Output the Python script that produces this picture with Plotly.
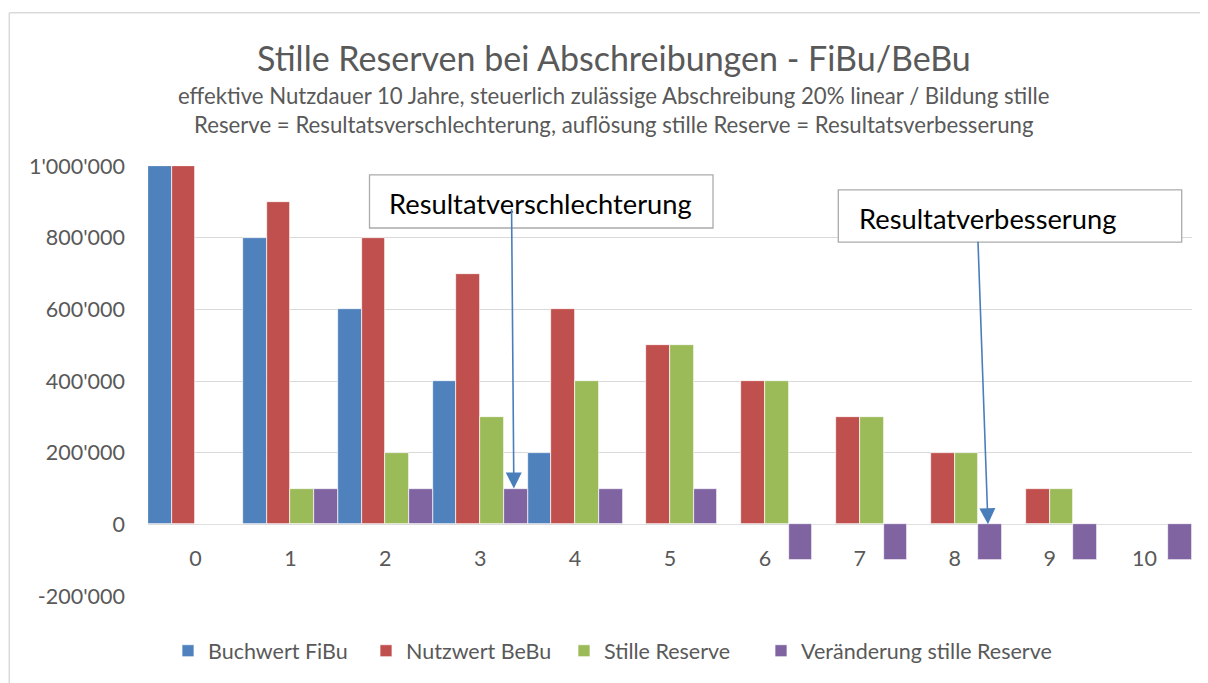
import plotly.graph_objects as go

categories = ["0", "1", "2", "3", "4", "5", "6", "7", "8", "9", "10"]
buchwert_fibu = [1000000, 800000, 600000, 400000, 200000, 0, 0, 0, 0, 0, 0]
nutzwert_bebu = [1000000, 900000, 800000, 700000, 600000, 500000, 400000, 300000, 200000, 100000, 0]
stille_reserve = [0, 100000, 200000, 300000, 400000, 500000, 400000, 300000, 200000, 100000, 0]
veraenderung = [0, 100000, 100000, 100000, 100000, 100000, -100000, -100000, -100000, -100000, -100000]

series_names = ["Buchwert FiBu", "Nutzwert BeBu", "Stille Reserve", "Veränderung stille Reserve"]
series_values = [buchwert_fibu, nutzwert_bebu, stille_reserve, veraenderung]
series_colors = ["#4F81BD", "#C0504D", "#9BBB59", "#8064A2"]
series_legends = ["legend", "legend", "legend", "legend2"]

y_tickvals = [-200000, 0, 200000, 400000, 600000, 800000, 1000000]
y_ticktext = ["-200'000", "0", "200'000", "400'000", "600'000", "800'000", "1'000'000"]

title_text = "Stille Reserven bei Abschreibungen - FiBu/BeBu"
subtitle_1 = "effektive Nutzdauer 10 Jahre, steuerlich zulässige Abschreibung 20% linear / Bildung stille"
subtitle_2 = "Reserve = Resultatsverschlechterung, auflösung stille Reserve = Resultatsverbesserung"
note_1 = "Resultatverschlechterung"
note_2 = "Resultatverbesserung"

FONT = "Lato"
GREY = "#595959"

fig = go.Figure()
for name, vals, col, lg in zip(series_names, series_values, series_colors, series_legends):
    fig.add_trace(go.Bar(x=categories, y=vals, name=name, legend=lg,
                         marker=dict(color=col, line=dict(color="white", width=0.7))))

# page has an 8px body margin; figure sized to fit the window
W, H = 1200, 675
L, R, T, B = 140, 16, 158, 85
pw, ph = W - L - R, H - T - B
OFF = 8


def px(x):  # reference-window x pixel -> paper coordinate
    return (x - OFF - L) / pw


def py(y):  # reference-window y pixel -> paper coordinate
    return (H - B - (y - OFF)) / ph


fig.update_layout(
    width=W, height=H,
    margin=dict(l=L, r=R, t=T, b=B),
    paper_bgcolor="white", plot_bgcolor="white",
    barmode="group", bargap=0, bargroupgap=0,
    font=dict(family=FONT, color=GREY),
    showlegend=True,
    legend=dict(orientation="h", x=px(168), xanchor="left", y=py(653), yanchor="middle",
                font=dict(size=21.5, color=GREY), itemwidth=30, traceorder="normal",
                entrywidth=153, entrywidthmode="pixels"),
    legend2=dict(orientation="h", x=px(761), xanchor="left", y=py(653), yanchor="middle",
                 font=dict(size=21.5, color=GREY), itemwidth=30),
    xaxis=dict(type="category", range=[-0.5, 10.5], anchor="free", position=1/6,
               showline=False, showgrid=False, ticks="", tickfont=dict(size=21.5, color=GREY),
               ticklabelstandoff=19),
    yaxis=dict(range=[-200000, 1000000], tickvals=y_tickvals, ticktext=y_ticktext,
               showgrid=True, gridcolor="#D9D9D9", gridwidth=1,
               zeroline=True, zerolinecolor="#D9D9D9", zerolinewidth=1,
               showline=False, ticks="", tickfont=dict(size=21.5, color=GREY),
               ticklabelstandoff=22),
)

annotations = [
    dict(text=title_text, xref="paper", yref="paper", x=px(613.5), y=py(57), showarrow=False,
         font=dict(size=34, color=GREY, family=FONT), xanchor="center", yanchor="middle"),
    dict(text=subtitle_1, xref="paper", yref="paper", x=px(613), y=py(95), showarrow=False,
         font=dict(size=22.2, color=GREY, family=FONT), xanchor="center", yanchor="middle"),
    dict(text=subtitle_2, xref="paper", yref="paper", x=px(613.5), y=py(124), showarrow=False,
         font=dict(size=22.2, color=GREY, family=FONT), xanchor="center", yanchor="middle"),
    dict(text=note_1, xref="paper", yref="paper", x=px(540.5), y=py(204),
         showarrow=False, font=dict(size=27.3, color="black", family=FONT),
         xanchor="center", yanchor="middle"),
    dict(text=note_2, xref="paper", yref="paper", x=px(987), y=py(219),
         showarrow=False, font=dict(size=27.3, color="black", family=FONT),
         xanchor="center", yanchor="middle"),
    dict(text="", x=3.355, y=100000, xref="x", yref="y", showarrow=True, ax=-2.3, ay=-281,
         arrowcolor="#4A7EBB", arrowwidth=1.6, arrowhead=2, arrowsize=2.0, standoff=0),
    dict(text="", x=8.35, y=0, xref="x", yref="y", showarrow=True, ax=-10, ay=-284,
         arrowcolor="#4A7EBB", arrowwidth=1.6, arrowhead=2, arrowsize=2.0, standoff=0),
]
fig.update_layout(annotations=annotations)

shapes = [
    dict(type="rect", xref="paper", yref="paper", x0=px(369.5), x1=px(713), y0=py(228.3), y1=py(175),
         line=dict(color="#ABABAB", width=1.3), fillcolor="white", layer="above"),
    dict(type="rect", xref="paper", yref="paper", x0=px(838.3), x1=px(1181.7), y0=py(242.5), y1=py(190),
         line=dict(color="#ABABAB", width=1.3), fillcolor="white", layer="above"),
    dict(type="line", xref="paper", yref="paper", x0=px(9.3), x1=px(9.3), y0=py(12), y1=py(700),
         line=dict(color="#D9D9D9", width=1.5)),
    dict(type="line", xref="paper", yref="paper", x0=px(9.3), x1=px(1220), y0=py(12), y1=py(12),
         line=dict(color="#D9D9D9", width=1.5)),
]
fig.update_layout(shapes=shapes)

fig.write_html("out.html")
